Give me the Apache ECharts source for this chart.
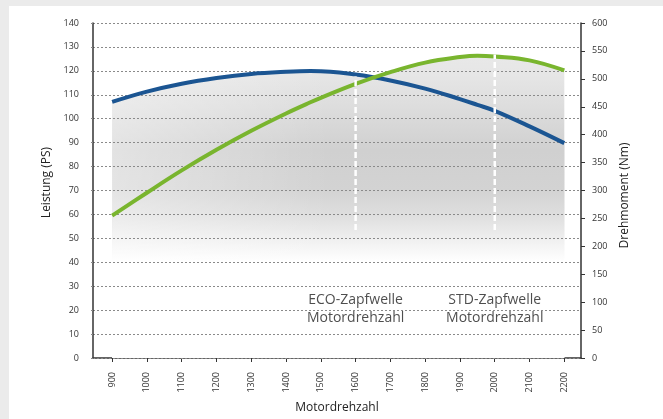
<!DOCTYPE html>
<html>
<head>
<meta charset="utf-8">
<script src="https://cdn.jsdelivr.net/npm/echarts@6/dist/echarts.min.js"></script>
<style>
html,body{margin:0;padding:0;background:#ebebeb;}
#chart{width:663px;height:419px;}
</style>
</head>
<body>
<div id="chart"></div>
<script>
// ---- data ----
const rpmTicks = [900,1000,1100,1200,1300,1400,1500,1600,1700,1800,1900,2000,2100,2200];
const rpm      = [900,1000,1100,1200,1300,1400,1470,1500,1600,1700,1800,1900,1950,2000,2100,2200];
const powerPS  = [107,111.3,114.6,117,118.7,119.6,119.9,119.8,118.5,116,112.6,108.2,105.8,103.3,96.8,89.8];
const torqueNm = [255,296,336,373,407,438,458,466,491,512,529,539,541.5,540,533,515];
const ptoRpm    = [1600, 2000];
const ptoBottom = [53.5, 53.5];
const ptoTop    = [117.6, 126.8];
const ptoLabels = ['ECO-Zapfwelle\nMotordrehzahl', 'STD-Zapfwelle\nMotordrehzahl'];
const ptoLabelY = [20.3, 20.5];
const yLeftName = 'Leistung (PS)';
const yRightName = 'Drehmoment (Nm)';
const xName = 'Motordrehzahl';

const pairs = (xs, ys) => xs.map((x, i) => [x, ys[i]]);

const chart = echarts.init(document.getElementById('chart'), null, {renderer: 'canvas'});

const fill = new echarts.graphic.LinearGradient(0, 23, 0, 358, [
  {offset: 0.000, color: '#ececec'},
  {offset: 0.155, color: '#e6e6e6'},
  {offset: 0.260, color: '#dcdcdc'},
  {offset: 0.380, color: '#d0d0d0'},
  {offset: 0.500, color: '#d3d3d3'},
  {offset: 0.573, color: '#dedede'},
  {offset: 0.648, color: '#f0f0f0'},
  {offset: 0.713, color: '#ffffff'},
  {offset: 1.000, color: '#ffffff'}
], true);
const leftLighten = new echarts.graphic.LinearGradient(112, 0, 330, 0, [
  {offset: 0, color: 'rgba(255,255,255,0.4)'},
  {offset: 1, color: 'rgba(255,255,255,0)'}
], true);

const tickFont = {fontFamily: 'Open Sans', fontSize: 9, color: '#333'};

const ptoSeries = ptoRpm.map((r, i) => ({
  type: 'line', xAxisIndex: 0, yAxisIndex: 0, z: 8,
  data: [[r, ptoBottom[i]], [r, ptoTop[i]]],
  showSymbol: false, silent: true,
  lineStyle: {color: '#ffffff', width: 2.5, type: [6, 3]}
}));

chart.setOption({
  animation: false,
  backgroundColor: '#ebebeb',
  graphic: [{type: 'rect', z: -10, silent: true, shape: {x: 9, y: 6, width: 660, height: 420}, style: {fill: '#ffffff'}}],
  grid: {left: 93, right: 82, top: 23, bottom: 61},
  xAxis: {
    type: 'value', min: 845, max: 2248,
    name: xName, nameLocation: 'middle', nameGap: 44,
    nameTextStyle: {fontFamily: 'Open Sans', fontSize: 12, color: '#222'},
    axisLine: {onZero: false, lineStyle: {color: '#333', width: 1.5}},
    axisTick: {show: true, length: 4, lineStyle: {color: '#333'}, customValues: rpmTicks},
    axisLabel: Object.assign({rotate: 90, margin: 14, customValues: rpmTicks, formatter: v => String(v)}, tickFont),
    splitLine: {show: false}
  },
  yAxis: [{
    type: 'value', min: 0, max: 140, interval: 10, z: 3,
    name: yLeftName, nameLocation: 'middle', nameGap: 40,
    nameTextStyle: {fontFamily: 'Open Sans', fontSize: 12, color: '#222', padding: [0, 0, 0, 16]},
    axisLine: {show: true, lineStyle: {color: '#333', width: 1.5}},
    axisTick: {show: true, length: 4, lineStyle: {color: '#888', type: [2, 2]}},
    axisLabel: Object.assign({margin: 14}, tickFont),
    splitLine: {show: true, lineStyle: {color: '#8a8a8a', width: 1, type: [2, 2]}}
  }, {
    type: 'value', min: 0, max: 600, interval: 50, position: 'right', z: 3,
    name: yRightName, nameLocation: 'middle', nameGap: 36,
    nameTextStyle: {fontFamily: 'Open Sans', fontSize: 12, color: '#222', padding: [0, 10, 0, 0]},
    axisLine: {show: true, lineStyle: {color: '#333', width: 1.5}},
    axisTick: {show: true, length: 4, lineStyle: {color: '#333'}},
    axisLabel: Object.assign({margin: 11}, tickFont),
    splitLine: {show: false}
  }],
  series: [
    {type: 'line', yAxisIndex: 0, z: 1, smooth: 0.4, showSymbol: false, silent: true,
     data: pairs(rpm, powerPS), lineStyle: {width: 0, opacity: 0}, areaStyle: {color: fill, opacity: 1}},
    {type: 'line', yAxisIndex: 1, z: 1, smooth: 0.4, showSymbol: false, silent: true,
     data: pairs(rpm, torqueNm), lineStyle: {width: 0, opacity: 0}, areaStyle: {color: fill, opacity: 1}},
    {type: 'line', yAxisIndex: 0, z: 2, smooth: 0.4, showSymbol: false, silent: true,
     data: pairs(rpm, powerPS), lineStyle: {width: 0, opacity: 0}, areaStyle: {color: leftLighten, opacity: 1}},
    {type: 'line', yAxisIndex: 0, z: 5, smooth: 0.4, showSymbol: false,
     data: pairs(rpm, powerPS), lineStyle: {color: '#1b5592', width: 4, cap: 'butt'}},
    {type: 'line', yAxisIndex: 1, z: 5, smooth: 0.4, showSymbol: false,
     data: pairs(rpm, torqueNm), lineStyle: {color: '#79b52e', width: 4, cap: 'butt'}},
    ...ptoSeries,
    {type: 'scatter', yAxisIndex: 0, z: 9, symbolSize: 0, silent: true,
     data: ptoRpm.map((r, i) => ({value: [r, ptoLabelY[i]], label: {formatter: ptoLabels[i]}})),
     label: {show: true, position: 'inside', fontFamily: 'Open Sans', fontSize: 14, lineHeight: 18, color: '#222', align: 'center'}}
  ]
});
</script>
</body>
</html>
